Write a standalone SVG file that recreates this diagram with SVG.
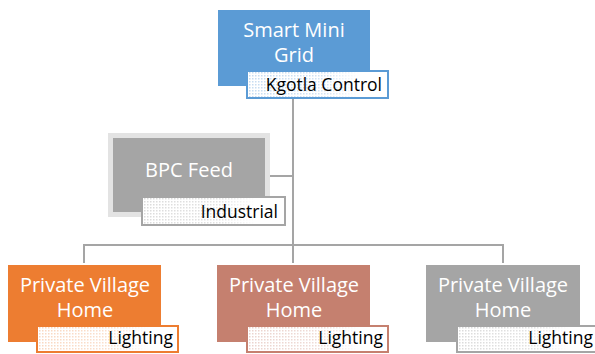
<svg xmlns="http://www.w3.org/2000/svg" width="595" height="354" viewBox="0 0 595 354">
<style>
.main{font-family:"Open Sans","Noto Sans",sans-serif;font-size:20px;fill:#ffffff;text-anchor:middle}
.lbl{font-family:"Open Sans","Noto Sans",sans-serif;font-size:17.5px;fill:#000000;text-anchor:end}
.conn{fill:none;stroke:#A5A5A5;stroke-width:2}
.lb{fill:#ffffff;stroke-width:2}
</style>
<defs>
<linearGradient id="fade" x1="0" y1="0" x2="1" y2="0">
<stop offset="0" stop-color="#fff" stop-opacity="1"/>
<stop offset="0.55" stop-color="#fff" stop-opacity="0.8"/>
<stop offset="0.8" stop-color="#fff" stop-opacity="0"/>
</linearGradient>
<mask id="fm" maskContentUnits="objectBoundingBox">
<rect x="0" y="0" width="1" height="1" fill="url(#fade)"/>
</mask>
<pattern id="pB" width="3" height="3" patternUnits="userSpaceOnUse"><rect width="1.5" height="1.5" fill="#5B9BD5" opacity="0.35"/></pattern>
<pattern id="pG" width="3" height="3" patternUnits="userSpaceOnUse"><rect width="1.5" height="1.5" fill="#A5A5A5" opacity="0.4"/></pattern>
<pattern id="pO" width="3" height="3" patternUnits="userSpaceOnUse"><rect width="1.5" height="1.5" fill="#ED7D31" opacity="0.3"/></pattern>
<pattern id="pS" width="3" height="3" patternUnits="userSpaceOnUse"><rect width="1.5" height="1.5" fill="#C5806F" opacity="0.35"/></pattern>
</defs>

<g id="connectors">
<path class="conn" d="M293 98 V263"/>
<path class="conn" d="M268 176 H293"/>
<path class="conn" d="M84 263 V245 H503 V263"/>
</g>

<g id="node-smart-mini-grid">
<rect x="218" y="10" width="152" height="76" fill="#5B9BD5"/>
<text class="main" x="294" y="37">Smart Mini</text>
<text class="main" x="294" y="62">Grid</text>
<rect class="lb" x="247" y="71" width="141" height="27" stroke="#5B9BD5"/>
<rect x="248" y="72" width="139" height="25" fill="url(#pB)" mask="url(#fm)"/>
<text class="lbl" x="382" y="91">Kgotla Control</text>
</g>

<g id="node-bpc-feed">
<rect x="110.5" y="135.5" width="157" height="79" fill="#A5A5A5" stroke="#E3E3E3" stroke-width="5"/>
<text class="main" x="189" y="177">BPC Feed</text>
<rect class="lb" x="142" y="197" width="143" height="28" stroke="#A5A5A5"/>
<rect x="143" y="198" width="141" height="26" fill="url(#pG)" mask="url(#fm)"/>
<text class="lbl" x="278" y="218">Industrial</text>
</g>

<g id="node-home-1">
<rect x="8" y="265" width="153" height="77" fill="#ED7D31"/>
<text class="main" x="85" y="292">Private Village</text>
<text class="main" x="85" y="317">Home</text>
<rect class="lb" x="37" y="326" width="141" height="26" stroke="#ED7D31"/>
<rect x="38" y="327" width="139" height="24" fill="url(#pO)" mask="url(#fm)"/>
<text class="lbl" x="173" y="344">Lighting</text>
</g>

<g id="node-home-2">
<rect x="217" y="265" width="153" height="77" fill="#C5806F"/>
<text class="main" x="294" y="292">Private Village</text>
<text class="main" x="294" y="317">Home</text>
<rect class="lb" x="247" y="326" width="141" height="26" stroke="#C5806F"/>
<rect x="248" y="327" width="139" height="24" fill="url(#pS)" mask="url(#fm)"/>
<text class="lbl" x="383" y="344">Lighting</text>
</g>

<g id="node-home-3">
<rect x="426" y="265" width="154" height="77" fill="#A5A5A5"/>
<text class="main" x="503" y="292">Private Village</text>
<text class="main" x="503" y="317">Home</text>
<rect class="lb" x="457" y="326" width="141" height="26" stroke="#A5A5A5"/>
<rect x="458" y="327" width="139" height="24" fill="url(#pG)" mask="url(#fm)"/>
<text class="lbl" x="593" y="344">Lighting</text>
</g>
</svg>
